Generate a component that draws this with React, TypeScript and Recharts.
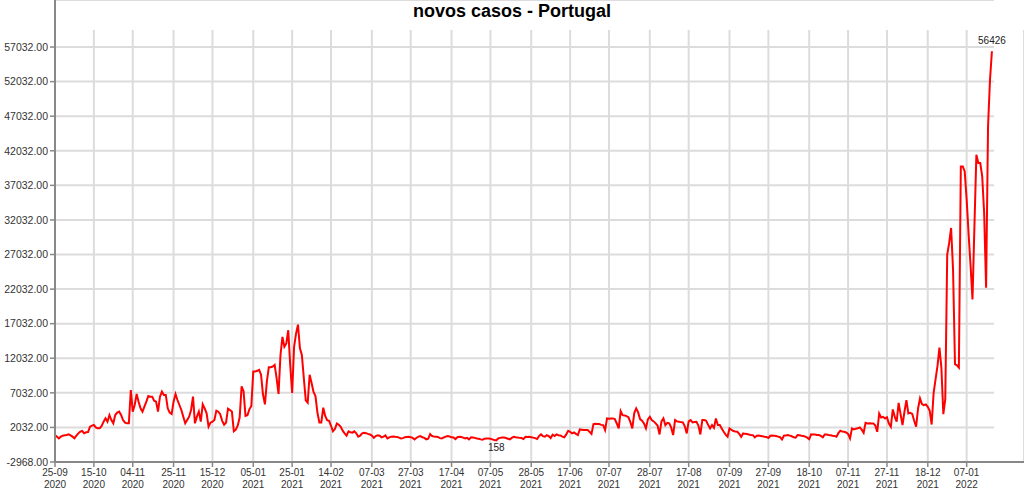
import React from 'react';
import { LineChart, Line, XAxis, YAxis, CartesianGrid, ReferenceDot } from 'recharts';

// Daily new COVID-19 cases in Portugal, one value per day starting 25-09-2020
const START_DATE = '25-09-2020';
const newCases: number[] = [
  936, 695, 454, 695, 840, 888, 936, 1032, 888, 695,
  454, 840, 1177, 1418, 1514, 1177, 1322, 1370, 2141, 2286,
  2382, 2045, 1900, 1900, 2238, 2864, 3346, 2864, 3828, 3105,
  2623, 3828, 4165, 4310, 3828, 3105, 2719, 2623, 2623, 7443,
  4310, 5274, 6865, 5756, 4792, 4310, 5033, 5756, 6575, 6479,
  6479, 5901, 5756, 4310, 6479, 7202, 6720, 6720, 4792, 4165,
  3973, 5756, 6865, 5997, 5274, 4551, 3587, 2623, 3105, 3587,
  4551, 6479, 2623, 3587, 4310, 2864, 5370, 4792, 4069, 2141,
  2719, 2864, 3105, 4455, 4310, 3937, 2984, 2413, 2746, 4746,
  4556, 4318, 1461, 1699, 2270, 3460, 7985, 7270, 3699, 3794,
  4651, 5127, 10127, 10127, 10222, 10365, 9651, 6794, 5365, 8699,
  10746, 10746, 10841, 11080, 9175, 6889, 12508, 15128, 13699, 14175,
  16080, 11080, 7032, 13699, 15604, 16890, 13461, 12508, 9175, 5937,
  5604, 9651, 8461, 7175, 6556, 4175, 2746, 2746, 4889, 3699,
  3080, 2984, 2270, 1461, 1794, 2603, 2413, 2127, 1556, 1175,
  842, 1461, 1318, 1270, 1461, 1175, 699, 842, 1175, 1250,
  1200, 1100, 1020, 850, 520, 780, 880, 820, 590, 700,
  875, 430, 590, 700, 720, 680, 650, 560, 440, 480,
  620, 650, 680, 600, 520, 300, 540, 700, 780, 600,
  520, 300, 390, 1068, 780, 700, 680, 650, 480, 440,
  580, 700, 780, 720, 600, 590, 350, 620, 680, 640,
  560, 440, 520, 300, 590, 560, 520, 440, 400, 300,
  250, 400, 430, 440, 380, 300, 200, 158, 440, 520,
  586, 560, 500, 400, 300, 520, 683, 600, 586, 520,
  500, 350, 683, 650, 683, 620, 560, 480, 350, 780,
  1020, 780, 683, 900, 780, 500, 972, 780, 1020, 900,
  875, 700, 600, 1020, 1550, 1405, 1164, 1300, 1100, 923,
  1743, 1700, 1647, 1647, 1647, 1405, 1100, 2514, 2550, 2514,
  2514, 2400, 2369, 1646, 3333, 3300, 3333, 3333, 3237, 2600,
  1887, 4394, 3800, 3767, 3670, 3500, 2800, 1887, 4100, 4779,
  4200, 3237, 3000, 2600, 1887, 3200, 3574, 3092, 2900, 2610,
  2300, 1020, 2900, 3333, 2369, 2700, 2610, 2000, 923, 3092,
  2900, 2851, 2800, 2755, 2200, 1164, 2900, 3092, 2755, 2800,
  2851, 2300, 1020, 3092, 3092, 3000, 2400, 1887, 2369, 1983,
  3333, 2369, 2369, 1887, 1400, 1000, 682, 1887, 1700, 1502,
  1450, 1405, 1100, 682, 1164, 1100, 1068, 1000, 950, 923,
  586, 827, 850, 800, 750, 682, 650, 500, 827, 850,
  827, 780, 700, 620, 297, 827, 880, 923, 850, 750,
  600, 538, 923, 900, 827, 800, 700, 560, 345, 1020,
  1000, 1020, 950, 926, 800, 600, 1020, 1020, 950, 900,
  827, 800, 685, 1200, 1551, 1450, 1400, 1300, 1100, 445,
  1888, 1750, 1850, 1900, 2032, 1700, 1262, 2705, 2600, 2650,
  2600, 2610, 2300, 1400, 4052, 3475, 3571, 3331, 3500, 2600,
  2128, 4629, 3600, 2850, 5591, 3956, 2369, 4300, 5976, 4052,
  4148, 4000, 3000, 2128, 4774, 6217, 5399, 5254, 5350, 5000,
  4432, 2450, 7000, 8980, 10925, 13567, 10680, 3950, 6115, 27030,
  28713, 30876, 24866, 11166, 11000, 10680, 39770, 39770, 39050, 35000,
  30000, 25500, 20540, 31117, 41454, 40252, 40252, 38329, 33040, 22222,
  45540, 52272, 56426,
];

const xTickDates: string[] = [
  '25-09-2020', '15-10-2020', '04-11-2020', '25-11-2020', '15-12-2020',
  '05-01-2021', '25-01-2021', '14-02-2021', '07-03-2021', '27-03-2021',
  '17-04-2021', '07-05-2021', '28-05-2021', '17-06-2021', '07-07-2021',
  '28-07-2021', '17-08-2021', '07-09-2021', '27-09-2021', '18-10-2021',
  '07-11-2021', '27-11-2021', '18-12-2021', '07-01-2022',
];

const yTicks: number[] = [
  -2968, 2032, 7032, 12032, 17032, 22032, 27032, 32032, 37032, 42032, 47032, 52032, 57032,
];

const TITLE = 'novos casos - Portugal';
const FONT = '"Liberation Sans", Arial, Helvetica, sans-serif';

const parseDate = (s: string) => {
  const [d, m, y] = s.split('-').map(Number);
  return Date.UTC(y, m - 1, d);
};
const dayOffset = (s: string) => Math.round((parseDate(s) - parseDate(START_DATE)) / 86400000);

const data = newCases.map((v, i) => ({ day: i, cases: v }));
const xTicks = xTickDates.map(dayOffset);
const labelByPos = new Map<number, string>(xTicks.map((p, i) => [p, xTickDates[i]]));

const maxVal = Math.max(...newCases);
const minVal = Math.min(...newCases);
const maxIdx = newCases.indexOf(maxVal);
const minIdx = newCases.indexOf(minVal);

const XTick = (props: any) => {
  const { x, y, payload } = props;
  const label = labelByPos.get(payload.value) ?? '';
  const parts = label.split('-');
  return (
    <text x={x} y={y} textAnchor="middle" fill="#333" fontSize={10} fontFamily={FONT}>
      <tspan x={x} dy="0.71em">{`${parts[0]}-${parts[1]}`}</tspan>
      <tspan x={x} dy={12}>{parts[2]}</tspan>
    </text>
  );
};

export default function App() {
  return (
    <div style={{ position: 'absolute', left: 0, top: 0, width: 1024, height: 497, fontFamily: FONT, background: '#fff' }}>
      <div
        style={{
          position: 'absolute', left: 0, top: 1, width: 1024, textAlign: 'center',
          fontWeight: 'bold', fontSize: 18, lineHeight: '20px', color: '#000', zIndex: 2,
        }}
      >
        {TITLE}
      </div>
      <LineChart width={1024} height={497} data={data} margin={{ top: 0, right: 0, bottom: 0, left: 0 }}>
        <CartesianGrid x={55} y={30} width={939} height={432} stroke="#dcdcdc" strokeWidth={2} />
        <XAxis
          type="number"
          dataKey="day"
          domain={[0, 498.5]}
          ticks={xTicks}
          interval={0}
          height={35}
          tickSize={5}
          tick={<XTick />}
          axisLine={{ stroke: '#888', strokeWidth: 2 }}
          tickLine={{ stroke: '#888', strokeWidth: 1.5 }}
        />
        <YAxis
          type="number"
          domain={[-2968, 63834]}
          ticks={yTicks}
          interval={0}
          width={55}
          tickSize={5}
          tickFormatter={(v: number) => v.toFixed(2)}
          tick={{ fontSize: 10.5, fill: '#333', fontFamily: FONT }}
          axisLine={{ stroke: '#888', strokeWidth: 2 }}
          tickLine={{ stroke: '#888', strokeWidth: 1.5 }}
        />
        <Line
          type="linear"
          dataKey="cases"
          stroke="#ff0000"
          strokeWidth={2}
          dot={false}
          isAnimationActive={false}
        />
        <ReferenceDot
          x={maxIdx}
          y={maxVal}
          r={0}
          fill="none"
          stroke="none"
          ifOverflow="visible"
          label={{ value: String(maxVal), position: 'top', offset: 7, fontSize: 10, fill: '#222', fontFamily: FONT }}
        />
        <ReferenceDot
          x={minIdx}
          y={minVal}
          r={0}
          fill="none"
          stroke="none"
          ifOverflow="visible"
          label={{ value: String(minVal), position: 'bottom', offset: 4, fontSize: 10, fill: '#222', fontFamily: FONT }}
        />
      </LineChart>
    </div>
  );
}
